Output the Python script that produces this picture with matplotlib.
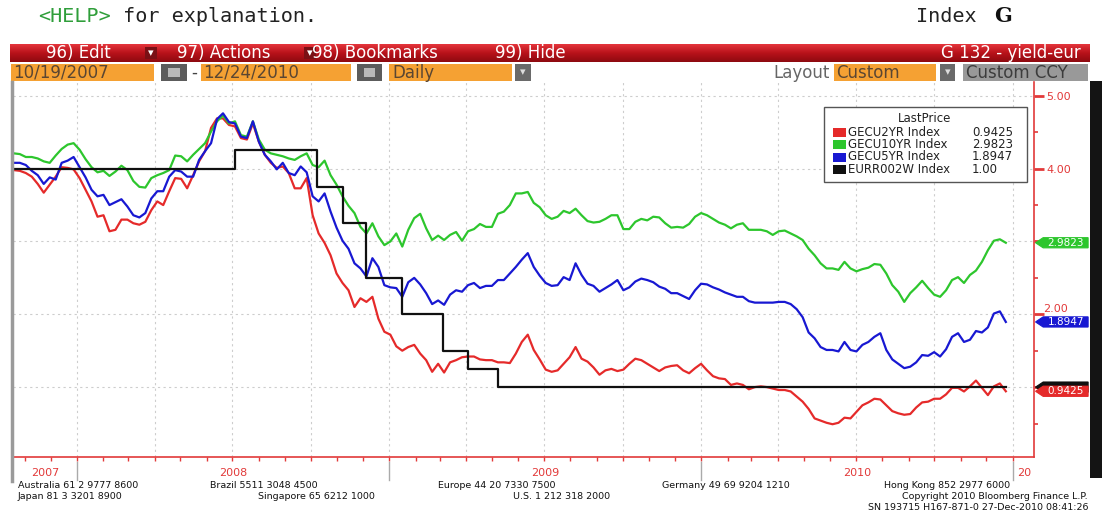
import matplotlib
matplotlib.use('Agg')
import matplotlib.pyplot as plt
import matplotlib.dates as mdates
from matplotlib.patches import Rectangle, Polygon
from matplotlib.lines import Line2D
from matplotlib.colors import LinearSegmentedColormap
import numpy as np
import pandas as pd

W, H = 1102, 512

# weekly (friday) readings of the three yield curves
week_start = '2007-10-19'
week_end = '2010-12-24'

gecu2yr = [3.98, 3.97, 3.94, 3.89, 3.79, 3.67, 3.78, 3.89, 4.02, 4.01,
           3.99, 3.87, 3.71, 3.55, 3.34, 3.36, 3.14, 3.16, 3.30, 3.30,
           3.25, 3.23, 3.27, 3.43, 3.55, 3.50, 3.69, 3.87, 3.86, 3.73,
           3.91, 4.10, 4.24, 4.56, 4.69, 4.69, 4.60, 4.58, 4.42, 4.40,
           4.62, 4.37, 4.19, 4.08, 4.01, 4.03, 3.94, 3.73, 3.73, 3.87,
           3.36, 3.11, 2.98, 2.81, 2.56, 2.43, 2.33, 2.10, 2.22, 2.17,
           2.24, 1.94, 1.76, 1.72, 1.56, 1.50, 1.55, 1.58, 1.46, 1.37,
           1.21, 1.32, 1.20, 1.34, 1.37, 1.41, 1.42, 1.42, 1.38, 1.37,
           1.37, 1.34, 1.34, 1.33, 1.46, 1.62, 1.72, 1.51, 1.38, 1.24,
           1.21, 1.23, 1.32, 1.41, 1.55, 1.39, 1.35, 1.27, 1.17, 1.23,
           1.25, 1.22, 1.24, 1.32, 1.39, 1.37, 1.32, 1.27, 1.22, 1.27,
           1.29, 1.30, 1.23, 1.19, 1.26, 1.32, 1.23, 1.15, 1.12, 1.11,
           1.03, 1.05, 1.03, 0.97, 1.00, 1.01, 1.00, 0.98, 0.96, 0.96,
           0.94, 0.87, 0.80, 0.70, 0.57, 0.54, 0.51, 0.49, 0.51, 0.58,
           0.57, 0.66, 0.75, 0.79, 0.84, 0.83, 0.75, 0.67, 0.64, 0.62,
           0.63, 0.72, 0.79, 0.80, 0.84, 0.84, 0.90, 0.99, 0.99, 0.94,
           1.01, 1.09, 0.99, 0.89, 1.01, 1.05, 0.9425]

gecu10yr = [4.21, 4.20, 4.16, 4.16, 4.14, 4.10, 4.08, 4.18, 4.27, 4.33,
            4.35, 4.26, 4.13, 4.02, 3.95, 3.97, 3.90, 3.96, 4.04, 3.98,
            3.83, 3.75, 3.74, 3.87, 3.91, 3.94, 3.98, 4.18, 4.17, 4.10,
            4.19, 4.27, 4.35, 4.51, 4.65, 4.73, 4.62, 4.65, 4.46, 4.44,
            4.65, 4.40, 4.26, 4.21, 4.19, 4.17, 4.14, 4.12, 4.17, 4.21,
            4.05, 4.02, 4.11, 3.91, 3.78, 3.62, 3.49, 3.39, 3.20, 3.11,
            3.25, 3.07, 2.95, 3.00, 3.11, 2.93, 3.16, 3.32, 3.38, 3.18,
            3.02, 3.08, 3.02, 3.09, 3.13, 3.01, 3.14, 3.17, 3.24, 3.20,
            3.20, 3.38, 3.41, 3.50, 3.66, 3.66, 3.68, 3.53, 3.47, 3.36,
            3.31, 3.34, 3.42, 3.39, 3.45, 3.36, 3.28, 3.26, 3.27, 3.31,
            3.36, 3.36, 3.17, 3.17, 3.27, 3.31, 3.29, 3.34, 3.33, 3.25,
            3.19, 3.20, 3.19, 3.24, 3.34, 3.39, 3.36, 3.31, 3.26, 3.23,
            3.18, 3.23, 3.25, 3.16, 3.16, 3.16, 3.14, 3.09, 3.14, 3.15,
            3.11, 3.07, 3.02, 2.90, 2.81, 2.70, 2.63, 2.63, 2.61, 2.72,
            2.63, 2.59, 2.62, 2.64, 2.69, 2.68, 2.56, 2.40, 2.31, 2.17,
            2.29, 2.37, 2.46, 2.36, 2.27, 2.24, 2.33, 2.47, 2.51, 2.43,
            2.54, 2.60, 2.72, 2.88, 3.01, 3.03, 2.9823]

gecu5yr = [4.08, 4.08, 4.05, 3.97, 3.91, 3.79, 3.88, 3.85, 4.08, 4.11,
           4.16, 4.02, 3.88, 3.71, 3.62, 3.64, 3.50, 3.54, 3.58, 3.48,
           3.36, 3.33, 3.39, 3.59, 3.69, 3.69, 3.89, 3.98, 3.96, 3.89,
           3.89, 4.12, 4.24, 4.35, 4.68, 4.76, 4.64, 4.62, 4.44, 4.42,
           4.65, 4.37, 4.19, 4.10, 3.99, 4.08, 3.94, 3.91, 4.03, 3.95,
           3.62, 3.55, 3.66, 3.41, 3.19, 3.01, 2.90, 2.70, 2.63, 2.52,
           2.77, 2.65, 2.40, 2.37, 2.36, 2.24, 2.44, 2.50, 2.41, 2.29,
           2.14, 2.19, 2.13, 2.27, 2.33, 2.31, 2.40, 2.43, 2.36, 2.39,
           2.39, 2.47, 2.47, 2.56, 2.65, 2.75, 2.84, 2.65, 2.53, 2.43,
           2.39, 2.40, 2.51, 2.47, 2.70, 2.54, 2.42, 2.39, 2.31, 2.36,
           2.41, 2.47, 2.33, 2.37, 2.45, 2.49, 2.47, 2.44, 2.38, 2.35,
           2.29, 2.29, 2.25, 2.21, 2.33, 2.42, 2.41, 2.37, 2.34, 2.30,
           2.27, 2.24, 2.24, 2.18, 2.16, 2.16, 2.16, 2.16, 2.17, 2.17,
           2.14, 2.07, 1.96, 1.75, 1.67, 1.55, 1.51, 1.51, 1.49, 1.62,
           1.51, 1.49, 1.58, 1.62, 1.69, 1.74, 1.51, 1.38, 1.32, 1.26,
           1.28, 1.34, 1.44, 1.43, 1.48, 1.42, 1.52, 1.69, 1.74, 1.62,
           1.65, 1.77, 1.75, 1.82, 2.01, 2.04, 1.8947]

# EURR002W: dates where the rate changes, and the new level
eurr_dates = ['2007-10-19', '2008-07-04', '2008-10-08', '2008-11-07', '2008-12-05',
              '2009-01-16', '2009-03-05', '2009-04-03', '2009-05-08', '2010-12-24']
eurr_levels = [4.00, 4.25, 3.75, 3.25, 2.50, 2.00, 1.50, 1.25, 1.00, 1.00]

series_names = ['GECU2YR Index', 'GECU10YR Index', 'GECU5YR Index', 'EURR002W Index']
last_prices = ['0.9425', '2.9823', '1.8947', '1.00']
series_colors = ['#e52a2a', '#2dc62d', '#1818d2', '#101010']

# right axis: 1.00 and 3.00 sit under the price tags, 2.00 peeks out above one
y_ticks = [1, 2, 3, 4, 5]
y_tick_labels = ['', '', '', '4.00', '5.00']
y_half_label = (2, '2.00')

year_labels = ['2007', '2008', '2009', '2010']

footer_1 = [('Australia 61 2 9777 8600', 18), ('Brazil 5511 3048 4500', 210),
            ('Europe 44 20 7330 7500', 438), ('Germany 49 69 9204 1210', 662),
            ('Hong Kong 852 2977 6000', 884)]
footer_2 = [('Japan 81 3 3201 8900', 18), ('Singapore 65 6212 1000', 258),
            ('U.S. 1 212 318 2000', 513)]
copyright_txt = 'Copyright 2010 Bloomberg Finance L.P.'
sn_txt = 'SN 193715 H167-871-0 27-Dec-2010 08:41:26'

RED = '#e23a3a'
ORANGE = '#f5a133'


def fx(p):
    return p / W


def fy(p):
    return 1 - p / H


fig = plt.figure(figsize=(W / 100, H / 100), dpi=100)
fig.patch.set_facecolor('white')


def box(x0, x1, y0, y1, color, edge='none', lw=0, z=1):
    r = Rectangle((fx(x0), fy(y1)), fx(x1) - fx(x0), fy(y0) - fy(y1),
                  transform=fig.transFigure, facecolor=color, edgecolor=edge,
                  linewidth=lw, zorder=z)
    fig.add_artist(r)
    return r


# ---------------- header ----------------
r = fig.canvas.get_renderer()
t1 = fig.text(fx(38), fy(16), '<HELP>', color='#2f9e3a', family='DejaVu Sans Mono',
              fontsize=14.5, va='center')
bb = t1.get_window_extent(renderer=r)
fig.text(bb.x1 / W, fy(16), ' for explanation.', color='#222222',
         family='DejaVu Sans Mono', fontsize=14.5, va='center')
fig.text(fx(916), fy(16), 'Index', color='#222222', family='DejaVu Sans Mono',
         fontsize=14.5, va='center')
fig.text(fx(994), fy(16), 'G', color='#111111', family='DejaVu Serif',
         fontweight='bold', fontsize=15, va='center')

# red menu bar with gradient
bar = fig.add_axes([fx(10), fy(62), fx(1090) - fx(10), fy(44) - fy(62)])
grad = np.linspace(0, 1, 32).reshape(-1, 1)
cmap = LinearSegmentedColormap.from_list('bbg', ['#e4343b', '#b8121a', '#8e0a10'])
bar.imshow(grad, aspect='auto', cmap=cmap, extent=[0, 1, 0, 1])
bar.set_axis_off()

menu = [('96) Edit', 46), ('97) Actions', 177), ('98) Bookmarks', 312), ('99) Hide', 495)]
for txt, x in menu:
    fig.text(fx(x), fy(53.5), txt, color='white', fontsize=12, va='center')
for x0 in [145, 304]:
    box(x0, x0 + 12, 47, 59, '#7a1015', z=3)
    fig.text(fx(x0 + 6), fy(53), '\u25be', color='white', fontsize=8,
             ha='center', va='center', zorder=4)
fig.text(fx(1081), fy(53.5), 'G 132 - yield-eur', color='white', fontsize=12,
         ha='right', va='center')

# orange row
box(11, 154, 64, 81, ORANGE)
box(201, 351, 64, 81, ORANGE)
box(389, 512, 64, 81, ORANGE)
box(834, 936, 64, 81, ORANGE)
for x0, x1 in [(161, 187), (357, 382)]:
    box(x0, x1, 64, 81, '#5c5c5c')
    box(x0 + 7, x1 - 7, 68, 77, '#b9b9b9')
for x0, x1 in [(515, 531), (940, 955)]:
    box(x0, x1, 64, 81, '#6a6a6a')
    fig.text(fx((x0 + x1) / 2), fy(72.5), '\u25be', color='#dddddd', fontsize=8,
             ha='center', va='center')
box(963, 1088, 64, 81, '#999999')
row_txt = '#5a4632'
fig.text(fx(13), fy(72.5), '10/19/2007', color=row_txt, fontsize=12, va='center')
fig.text(fx(191), fy(72.5), '-', color='#444444', fontsize=12, va='center')
fig.text(fx(203), fy(72.5), '12/24/2010', color=row_txt, fontsize=12, va='center')
fig.text(fx(392), fy(72.5), 'Daily', color=row_txt, fontsize=12, va='center')
fig.text(fx(830), fy(72.5), 'Layout', color='#666666', fontsize=12, ha='right', va='center')
fig.text(fx(836), fy(72.5), 'Custom', color=row_txt, fontsize=12, va='center')
fig.text(fx(966), fy(72.5), 'Custom CCY', color='#3c3c3c', fontsize=12, va='center')

# ---------------- main chart ----------------
ax = fig.add_axes([fx(13), fy(457), fx(1034) - fx(13), fy(82) - fy(457)])
dates = pd.date_range(week_start, week_end, freq='7D')
ax.plot(dates, gecu2yr, color=series_colors[0], lw=1.6, zorder=3)
ax.plot(dates, gecu10yr, color=series_colors[1], lw=1.6, zorder=3)
ax.plot(dates, gecu5yr, color=series_colors[2], lw=1.6, zorder=3)
ax.plot(pd.to_datetime(eurr_dates), eurr_levels, color=series_colors[3], lw=1.6,
        drawstyle='steps-post', zorder=4)

for s in ['left', 'top']:
    ax.spines[s].set_visible(False)
for s in ['right', 'bottom']:
    ax.spines[s].set_color(RED)
    ax.spines[s].set_linewidth(1.2)

ax.yaxis.tick_right()
ax.set_yticks(y_ticks)
ax.set_yticklabels(y_tick_labels)
ax.set_yticks([0.5, 1.5, 2.5, 3.5, 4.5], minor=True)
ax.tick_params(axis='y', which='major', colors=RED, length=7, width=2, labelsize=8, pad=2)
ax.tick_params(axis='y', which='minor', colors=RED, length=3, width=1.2)
ax.text(1.0085, y_half_label[0] + 0.01, y_half_label[1], transform=ax.get_yaxis_transform(),
        color=RED, fontsize=8, ha='left', va='bottom', clip_on=False)

ax.xaxis.set_major_locator(mdates.MonthLocator(bymonth=[1, 4, 7, 10]))
ax.xaxis.set_minor_locator(mdates.MonthLocator())
ax.tick_params(axis='x', which='both', colors=RED, length=3, width=1, labelbottom=False)
ax.grid(True, which='major', color='#cdcdcd', linestyle=(0, (2, 3)), linewidth=0.8)
ax.set_axisbelow(True)

# last price tags on the right axis
ytr = ax.get_yaxis_transform()
tag_order = [3, 1, 2, 0]
for k in tag_order:
    v = float(last_prices[k])
    h = 0.07
    poly = Polygon([[1.0015, v], [1.009, v + h], [1.053, v + h], [1.053, v - h], [1.009, v - h]],
                   closed=True, transform=ytr, facecolor=series_colors[k],
                   edgecolor=series_colors[k], lw=0.8, clip_on=False, zorder=6)
    ax.add_patch(poly)
    if k != 3:
        ax.text(1.031, v, last_prices[k], transform=ytr, color='white', fontsize=7.5,
                ha='center', va='center', clip_on=False, zorder=7)

x_lo = pd.Timestamp('2007-10-18')
x_hi = pd.Timestamp('2011-01-26')
ax.set_xlim(x_lo, x_hi)
ax.set_ylim(0.04, 5.19)

# year labels and separators under the axis
xtr = ax.get_xaxis_transform()
for yr in ['2008', '2009', '2010', '2011']:
    d = pd.Timestamp(yr + '-01-01')
    ax.plot([d, d], [-0.014, -0.062], transform=xtr, color='#aaaaaa', lw=1, clip_on=False)
for lab in year_labels:
    a = max(pd.Timestamp(lab + '-01-01'), x_lo)
    b = pd.Timestamp(str(int(lab) + 1) + '-01-01')
    ax.text(a + (b - a) / 2, -0.042, lab, transform=xtr, color=RED, fontsize=8,
            ha='center', va='center', clip_on=False)
ax.text(pd.Timestamp('2011-01-06'), -0.042, '20', transform=xtr, color=RED, fontsize=8,
        ha='left', va='center', clip_on=False)

# left grey frame line and right black strip
fig.add_artist(Line2D([fx(11.5), fx(11.5)], [fy(82), fy(481)], transform=fig.transFigure,
                      color='#9a9a9a', lw=2.5))
box(1090, 1102, 81, 478, '#141414', z=2)

# legend box
box(824, 1027, 107, 182, 'white', edge='#555555', lw=1, z=5)
fig.text(fx(925), fy(119), 'LastPrice', ha='center', va='center', fontsize=8.5,
         color='#222222', zorder=6)
for k in range(4):
    yy = 132 + k * 12.5
    box(833, 846, yy - 4.5, yy + 4.5, series_colors[k], z=6)
    fig.text(fx(848), fy(yy), series_names[k], va='center', fontsize=8.5,
             color='#222222', zorder=6)
    fig.text(fx(972), fy(yy), last_prices[k], va='center', fontsize=8.5,
             color='#222222', zorder=6)

# footer
ff = 'DejaVu Sans'
fs = 6.8
for txt, x in footer_1:
    fig.text(fx(x), fy(485.5), txt, family=ff, fontsize=fs, va='center', color='#111111')
for txt, x in footer_2:
    fig.text(fx(x), fy(496.3), txt, family=ff, fontsize=fs, va='center', color='#111111')
fig.text(fx(1088), fy(496.3), copyright_txt, family=ff, fontsize=fs,
         va='center', ha='right', color='#111111')
fig.text(fx(1088), fy(507), sn_txt, family=ff, fontsize=fs,
         va='center', ha='right', color='#111111')

fig.savefig('out.png', dpi=100, facecolor='white')
